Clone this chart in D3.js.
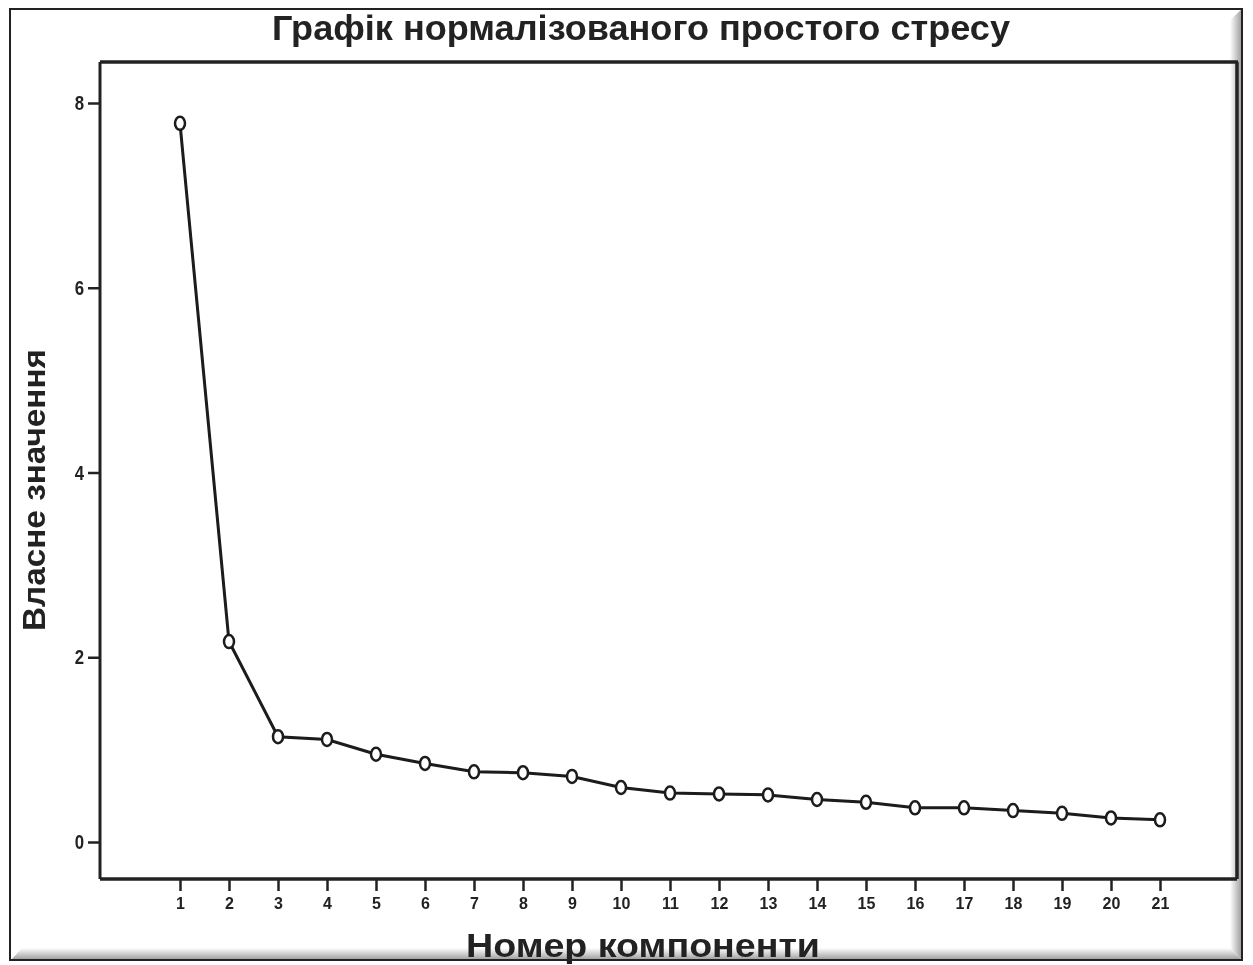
<!DOCTYPE html>
<html>
<head>
<meta charset="utf-8">
<script src="https://cdn.jsdelivr.net/npm/d3@7"></script>
<style>
  body { margin: 0; background: #fff; }
  svg text { font-family: "Liberation Sans", Arial, sans-serif; fill: #222; }
</style>
</head>
<body>
<div id="chart"></div>
<script>
// дані: номер компоненти і власне значення
var components = [1, 2, 3, 4, 5, 6, 7, 8, 9, 10, 11, 12, 13, 14, 15, 16, 17, 18, 19, 20, 21];
var eigenvalues = [7.78, 2.17, 1.14, 1.11, 0.95, 0.85, 0.76, 0.75, 0.71, 0.59, 0.53,
  0.52, 0.51, 0.46, 0.43, 0.37, 0.37, 0.34, 0.31, 0.26, 0.24];
var yTicks = [0, 2, 4, 6, 8];
var titleText = 'Графік нормалізованого простого стресу';
var xLabel = 'Номер компоненти';
var yLabel = 'Власне значення';

var width = 1253;
var height = 965;

// область графіка
var plot = { left: 100, top: 62, right: 1237, bottom: 879 };

var xScale = d3.scaleLinear().domain([1, 21]).range([180, 1160]);
var yScale = d3.scaleLinear().domain([0, 8]).range([842, 103]);

var svg = d3.select('#chart').append('svg')
  .attr('width', width).attr('height', height);

var defs = svg.append('defs');
defs.append('filter').attr('id', 'soft')
  .append('feGaussianBlur').attr('stdDeviation', 0.7);

var gr = defs.append('linearGradient').attr('id', 'bevelR').attr('x1', 0).attr('x2', 1);
gr.append('stop').attr('offset', 0).attr('stop-color', '#fff');
gr.append('stop').attr('offset', 1).attr('stop-color', '#9a9a9a');
var gb = defs.append('linearGradient').attr('id', 'bevelB').attr('x1', 0).attr('x2', 0).attr('y1', 0).attr('y2', 1);
gb.append('stop').attr('offset', 0).attr('stop-color', '#fff');
gb.append('stop').attr('offset', 1).attr('stop-color', '#9a9a9a');

var root = svg.append('g').attr('filter', 'url(#soft)');

// рамка з фаскою
root.append('polygon')
  .attr('points', [[1230, 20], [1242, 9], [1242, 960], [1230, 948]].join(' '))
  .attr('fill', 'url(#bevelR)');
root.append('polygon')
  .attr('points', [[22, 948], [1230, 948], [1242, 960], [11, 960]].join(' '))
  .attr('fill', 'url(#bevelB)');
root.append('rect')
  .attr('x', 10).attr('y', 9).attr('width', 1232).attr('height', 951)
  .attr('fill', 'none').attr('stroke', '#222').attr('stroke-width', 2);

// рамка області графіка
root.append('line')
  .attr('x1', plot.left).attr('x2', plot.right + 1)
  .attr('y1', plot.top).attr('y2', plot.top)
  .attr('stroke', '#222').attr('stroke-width', 3.5);
root.append('line')
  .attr('x1', plot.right).attr('x2', plot.right)
  .attr('y1', plot.top).attr('y2', plot.bottom)
  .attr('stroke', '#222').attr('stroke-width', 3.5);

// осі
var yAxis = d3.axisLeft(yScale).tickValues(yTicks).tickSize(12).tickPadding(6).tickFormat(d3.format('d'));
var gy = root.append('g').attr('transform', 'translate(' + plot.left + ',0)').call(yAxis);
gy.select('.domain').attr('d', 'M0,' + plot.top + 'V' + plot.bottom).attr('stroke', '#222').attr('stroke-width', 3);
gy.selectAll('.tick line').attr('stroke', '#222').attr('stroke-width', 2.5);
gy.selectAll('.tick text').attr('font-size', 21).attr('font-weight', 'bold')
  .attr('transform', 'scale(0.8,1)').attr('x', -20);

var xAxis = d3.axisBottom(xScale).tickValues(components).tickSize(12).tickPadding(7).tickFormat(d3.format('d'));
var gx = root.append('g').attr('transform', 'translate(0,' + plot.bottom + ')').call(xAxis);
gx.select('.domain').attr('d', 'M' + plot.left + ',0H' + plot.right).attr('stroke', '#222').attr('stroke-width', 3.5);
gx.selectAll('.tick line').attr('stroke', '#222').attr('stroke-width', 2.5);
gx.selectAll('.tick text').attr('font-size', 16).attr('font-weight', 'bold');

// лінія
var line = d3.line()
  .x(function(d, i) { return xScale(components[i]); })
  .y(function(d) { return yScale(d); });

root.append('path')
  .datum(eigenvalues)
  .attr('d', line)
  .attr('fill', 'none')
  .attr('stroke', '#1a1a1a')
  .attr('stroke-width', 3);

root.selectAll('.pt')
  .data(eigenvalues)
  .enter().append('ellipse')
  .attr('class', 'pt')
  .attr('cx', function(d, i) { return xScale(components[i]); })
  .attr('cy', function(d) { return yScale(d); })
  .attr('rx', 5).attr('ry', 6.5)
  .attr('fill', '#fff')
  .attr('stroke', '#1a1a1a')
  .attr('stroke-width', 2.5);

// підписи
root.append('text')
  .attr('x', 641).attr('y', 40)
  .attr('text-anchor', 'middle')
  .attr('font-size', 35)
  .attr('font-weight', 'bold')
  .attr('textLength', 738).attr('lengthAdjust', 'spacingAndGlyphs')
  .attr('fill', '#333')
  .text(titleText);

root.append('text')
  .attr('x', 643).attr('y', 957)
  .attr('text-anchor', 'middle')
  .attr('font-size', 33)
  .attr('font-weight', 'bold')
  .attr('textLength', 354).attr('lengthAdjust', 'spacingAndGlyphs')
  .text(xLabel);

root.append('text')
  .attr('transform', 'translate(45,490) rotate(-90)')
  .attr('text-anchor', 'middle')
  .attr('font-size', 32)
  .attr('font-weight', 'bold')
  .attr('textLength', 282).attr('lengthAdjust', 'spacingAndGlyphs')
  .text(yLabel);
</script>
</body>
</html>
